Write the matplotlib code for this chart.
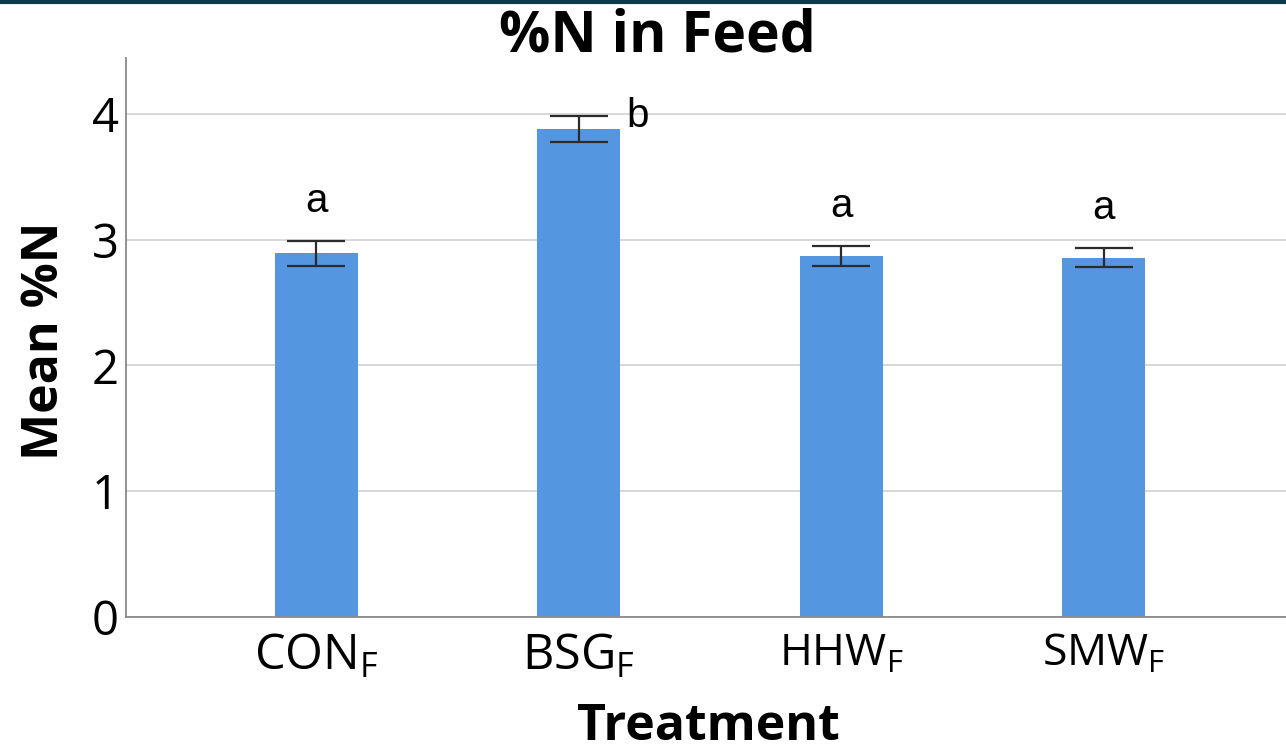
import matplotlib
matplotlib.use("Agg")
import matplotlib.pyplot as plt
from matplotlib.lines import Line2D

# values
treatments = ["CON", "BSG", "HHW", "SMW"]
mean_n = [2.89, 3.88, 2.87, 2.855]
err_n = [0.10, 0.10, 0.08, 0.075]
letters = ["a", "b", "a", "a"]
label_sizes = [35, 35, 32, 32]

bar_color = "#5596e0"

plt.rcParams["font.family"] = ["Open Sans", "DejaVu Sans"]
plt.rcParams["mathtext.fontset"] = "custom"
plt.rcParams["mathtext.rm"] = "Open Sans"

fig = plt.figure(figsize=(12.86, 7.53), dpi=100)
ax = fig.add_axes([0.098, 0.181, 0.902, 0.742])

x = list(range(len(treatments)))
ax.bar(x, mean_n, width=0.317, color=bar_color, zorder=2)
ax.errorbar(x, mean_n, yerr=err_n, fmt="none", ecolor="#2b2b2b",
            elinewidth=1.6, capsize=21, capthick=1.6, zorder=3)

# significance letters
for i, (m, e, l) in enumerate(zip(mean_n, err_n, letters)):
    if l == "b":
        ax.annotate(l, (i, m + e), xytext=(34, 0), textcoords="offset points",
                    ha="left", va="center", fontsize=29, family="Liberation Sans")
    else:
        ax.annotate(l, (i, m + e), xytext=(0, 29), textcoords="offset points",
                    ha="center", va="center", fontsize=29, family="Liberation Sans")

ax.set_xlim(-0.725, 3.695)
ax.set_ylim(0, 4.445)
ax.set_yticks([0, 1, 2, 3, 4])
ax.yaxis.grid(True, color="#d4d4d4", linewidth=1.3, zorder=0)
ax.set_axisbelow(True)

ax.set_xticks(x)
ax.set_xticklabels([t + r"$_\mathregular{F}$" for t in treatments])
for lab, fs in zip(ax.get_xticklabels(), label_sizes):
    lab.set_fontsize(fs)
for lab in ax.get_yticklabels():
    lab.set_fontsize(34)
ax.tick_params(axis="both", length=0)
ax.tick_params(axis="x", pad=11)
ax.tick_params(axis="y", pad=5)

for s in ["top", "right"]:
    ax.spines[s].set_visible(False)
for s in ["left", "bottom"]:
    ax.spines[s].set_color("#8a8a8a")
    ax.spines[s].set_linewidth(1.3)

fig.text(0.511, 0.951, "%N in Feed", ha="center", va="center",
         fontsize=41, fontweight="bold")
fig.text(0.035, 0.548, "Mean %N", ha="center", va="center", rotation=90,
         fontsize=36, fontweight="bold")
fig.text(0.551, 0.035, "Treatment", ha="center", va="center",
         fontsize=36, fontweight="bold")

# thin dark band along the top edge
fig.add_artist(Line2D([0, 1], [0.998, 0.998], transform=fig.transFigure,
                      color="#0e3a4e", linewidth=3))

fig.savefig("out.png", dpi=100)
